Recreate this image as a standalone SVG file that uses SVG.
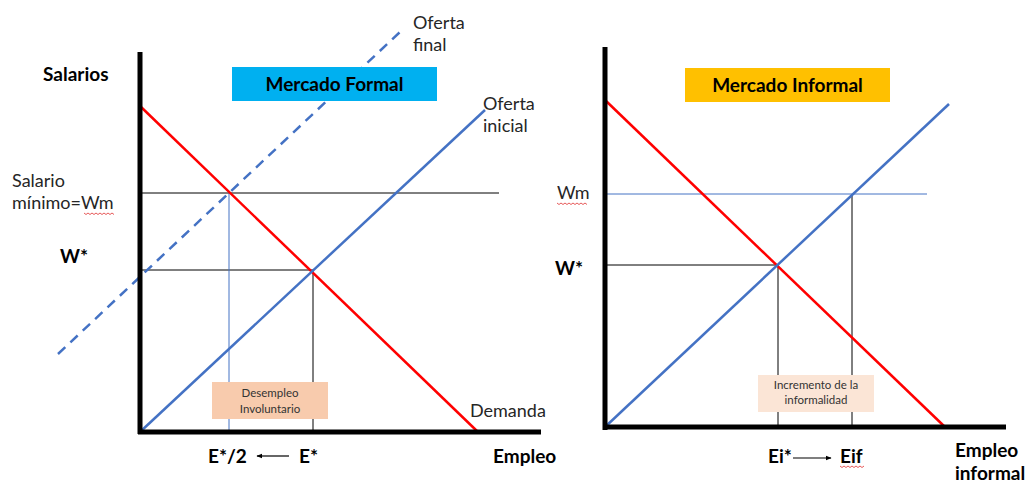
<svg xmlns="http://www.w3.org/2000/svg" width="1034" height="482" viewBox="0 0 1034 482">
<style>
text{font-family:Lato,"Liberation Sans",sans-serif;fill:#000}
.b{font-weight:bold;font-size:19px}
.lbl{font-size:18px;fill:#262626}
.small{font-size:11.5px;fill:#333}
.axis{stroke:#000;stroke-width:5;fill:none}
.red{stroke:#FF0000;stroke-width:2.5;fill:none}
.blue{stroke:#4472C4;stroke-width:2.5;fill:none}
.thin{stroke:#000;stroke-width:1;fill:none}
.tblue{stroke:#4472C4;stroke-width:1;fill:none}
.sq{stroke:#E03030;stroke-width:0.8;fill:none}
</style>
<defs>
<marker id="ah" viewBox="0 0 10 10" refX="9" refY="5" markerWidth="6" markerHeight="6" orient="auto-start-reverse" markerUnits="userSpaceOnUse">
<path d="M0,1 L10,5 L0,9 Z" fill="#000"/>
</marker>
</defs>
<rect width="1034" height="482" fill="#fff"/>

<g id="connectors">
<!-- left chart -->
<line class="thin" x1="140" y1="193" x2="499" y2="193"/>
<line class="thin" x1="140" y1="270" x2="313" y2="270"/>
<line class="thin" x1="313" y1="270" x2="313" y2="432"/>
<line class="tblue" x1="229" y1="193" x2="229" y2="432" stroke="#7FA0D8"/>
<line class="red" x1="140" y1="106" x2="478" y2="432"/>
<line class="blue" x1="140" y1="432" x2="485" y2="110"/>
<line class="blue" x1="58" y1="354" x2="400" y2="32" stroke-dasharray="10,7"/>
<line class="axis" x1="140" y1="52" x2="140" y2="434"/>
<line class="axis" x1="138" y1="432" x2="541" y2="432"/>
<line stroke="#000" stroke-width="1.2" x1="289" y1="456" x2="257" y2="456" marker-end="url(#ah)"/>
<!-- right chart -->
<line class="tblue" x1="605" y1="194" x2="927" y2="194"/>
<line class="thin" x1="852" y1="194" x2="852" y2="427"/>
<line class="thin" x1="605" y1="265" x2="778" y2="265"/>
<line class="thin" x1="778" y1="265" x2="778" y2="427"/>
<line class="red" x1="605" y1="100" x2="945" y2="427"/>
<line class="blue" x1="605" y1="427" x2="949" y2="104"/>
<line class="axis" x1="605" y1="47" x2="605" y2="430"/>
<line class="axis" x1="603" y1="427" x2="1006" y2="427"/>
<line stroke="#000" stroke-width="1.2" x1="793" y1="458" x2="831" y2="458" marker-end="url(#ah)"/>
</g>

<g id="title-formal">
<rect x="232" y="67" width="205" height="34" fill="#00B0F0"/>
<text class="b" x="334.5" y="91" font-size="19.5" text-anchor="middle">Mercado Formal</text>
</g>
<g id="title-informal">
<rect x="685" y="68" width="205" height="34" fill="#FFC000"/>
<text class="b" x="787.5" y="92" font-size="19.5" text-anchor="middle">Mercado Informal</text>
</g>

<g id="labels-left">
<text class="b" x="43" y="81">Salarios</text>
<text class="lbl" x="413" y="29">Oferta</text>
<text class="lbl" x="413" y="51">final</text>
<text class="lbl" x="483" y="110">Oferta</text>
<text class="lbl" x="483" y="132">inicial</text>
<text class="lbl" x="12" y="187">Salario</text>
<text class="lbl" x="12" y="209">mínimo=Wm</text>
<path class="sq" d="M84,213 l2,1.5 l2,-1.5 l2,1.5 l2,-1.5 l2,1.5 l2,-1.5 l2,1.5 l2,-1.5 l2,1.5 l2,-1.5 l2,1.5 l2,-1.5 l2,1.5 l2,-1.5 l2,1.5"/>
<text class="b" x="60" y="263" font-size="18">W*</text>
<text class="lbl" x="470" y="417">Demanda</text>
<text class="b" x="208" y="463">E*/2</text>
<text class="b" x="299" y="463">E*</text>
<text class="b" x="493" y="463">Empleo</text>
</g>

<g id="box-desempleo">
<rect x="212" y="382" width="116" height="37" fill="#F8CBAD"/>
<text class="small" x="270" y="397" text-anchor="middle">Desempleo</text>
<text class="small" x="270" y="413" text-anchor="middle">Involuntario</text>
</g>

<g id="labels-right">
<text class="lbl" x="557" y="199">Wm</text>
<path class="sq" d="M557,203 l2,1.5 l2,-1.5 l2,1.5 l2,-1.5 l2,1.5 l2,-1.5 l2,1.5 l2,-1.5 l2,1.5 l2,-1.5 l2,1.5 l2,-1.5 l2,1.5 l2,-1.5 l2,1.5"/>
<text class="b" x="555" y="275" font-size="18">W*</text>
<text class="b" x="768" y="463">Ei*</text>
<text class="b" x="840" y="463">Eif</text>
<path class="sq" d="M840,466 l2,1.5 l2,-1.5 l2,1.5 l2,-1.5 l2,1.5 l2,-1.5 l2,1.5 l2,-1.5 l2,1.5 l2,-1.5 l2,1.5 l2,-1.5"/>
<text class="b" x="955" y="457">Empleo</text>
<text class="b" x="955" y="480">informal</text>
</g>

<g id="box-informalidad">
<rect x="758" y="375" width="116" height="37" fill="#FBE5D6"/>
<text class="small" x="816" y="389" text-anchor="middle">Incremento de la</text>
<text class="small" x="816" y="404" text-anchor="middle">informalidad</text>
</g>
</svg>
